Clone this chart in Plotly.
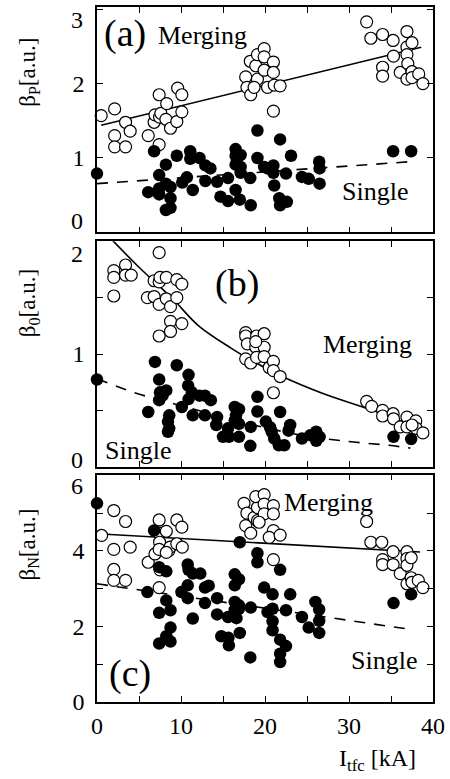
import plotly.graph_objects as go

# ---------------- data ----------------
# Panel (a): beta_p
a_open_x = [0.5, 2.1, 2.1, 2.1, 3.4, 3.95, 3.4, 6.1, 6.8, 6.9, 7.4, 7.4, 7.45, 7.6, 8.2, 8.3, 8.75, 9.5, 9.6, 10.1, 10.1,
            17.7, 17.85, 18.3, 18.25, 18.9, 19.1, 19.1, 19.9, 19.9, 19.9, 20.3, 21.0, 21.0, 21.1, 21.0, 21.8, 18.7,
            32.1, 32.6, 34.0, 34.0, 34.0, 35.25, 35.3, 36.1, 36.9, 36.9, 36.9, 37.0, 36.9, 37.5, 37.5, 37.5, 38.3, 38.8]
a_open_y = [1.57, 1.66, 1.30, 1.15, 1.48, 1.36, 1.15, 1.30, 1.48, 1.58, 1.85, 1.18, 1.55, 1.60, 1.52, 1.73, 1.40, 1.49, 1.94, 1.85, 1.62,
            2.09, 1.95, 1.85, 2.30, 2.24, 2.39, 2.06, 2.47, 2.36, 2.18, 1.95, 2.29, 2.15, 1.98, 1.63, 1.97, 1.95,
            2.83, 2.61, 2.66, 2.22, 2.10, 2.58, 2.37, 2.15, 2.70, 2.49, 2.39, 2.27, 2.06, 2.55, 2.16, 2.08, 2.13, 2.0]
a_fill_x = [0, 6.8, 6.1, 7.4, 7.4, 7.4, 8.2, 8.2, 8.75, 8.75, 8.2, 8.75, 9.5, 10.15, 10.7, 11.1, 11.1, 11.4,
            12.2, 12.9, 13.5, 12.9, 14.3, 14.7, 15.6, 15.6, 16.5, 16.5, 16.5, 16.5, 17.0, 17.1, 17.1, 17.1, 18.25, 18.3,
            19.1, 19.1, 19.9, 20.3, 21.0, 21.0, 21.1, 21.8, 21.7, 21.8, 22.6, 22.5, 23.1, 24.4, 25.2, 26.45, 26.5, 26.5,
            35.25, 37.4]
a_fill_y = [0.79, 1.09, 0.54, 0.77, 0.59, 0.51, 0.91, 0.655, 0.61, 0.46, 0.30, 0.33, 1.03, 0.67, 0.74, 1.09, 0.99, 0.57,
            1.0, 0.90, 0.86, 0.69, 0.68, 0.48, 0.42, 0.73, 1.12, 1.03, 0.91, 0.57, 0.44, 1.04, 0.88, 0.80, 0.73, 0.365,
            1.37, 1.0, 0.88, 0.86, 0.90, 0.80, 0.63, 1.25, 0.46, 0.365, 0.41, 0.79, 1.03, 0.745, 0.72, 0.95, 0.86, 0.655,
            1.09, 1.09]
a_merge_fit_x = [0.5, 38.6]
a_merge_fit_y = [1.44, 2.49]
a_single_fit_x = [0, 37.3]
a_single_fit_y = [0.655, 0.95]
a_yticks = [0, 1, 2, 3]

# Panel (b): beta_0
b_open_x = [2.0, 2.0, 2.0, 3.4, 3.4, 4.07, 7.4, 6.0, 6.8, 6.8, 7.4, 7.5, 8.25, 9.5, 10.1, 7.4, 8.25, 8.75, 9.5, 8.75, 10.1, 8.75, 7.4,
            17.7, 17.7, 17.9, 19.0, 19.9, 18.9, 19.9, 17.7, 18.3, 19.0, 19.9, 20.5, 21.0, 21.0, 21.8, 21.0, 18.9,
            32.1, 32.7, 34.0, 34.0, 35.25, 35.3, 36.1, 36.9, 36.9, 37.95, 38.0, 38.8, 37.5]
b_open_y = [1.74, 1.68, 1.515, 1.79, 1.70, 1.70, 1.90, 1.50, 1.65, 1.51, 1.64, 1.68, 1.68, 1.66, 1.62, 1.44, 1.49, 1.42, 1.50, 1.29, 1.27, 1.20, 1.16,
            1.19, 1.16, 1.09, 1.16, 1.18, 1.06, 1.06, 0.957, 0.92, 0.97, 0.977, 0.88, 0.935, 0.853, 0.80, 0.656, 1.11,
            0.58, 0.535, 0.50, 0.45, 0.47, 0.425, 0.353, 0.44, 0.353, 0.406, 0.34, 0.30, 0.37]
b_fill_x = [0, 6.9, 9.5, 7.4, 7.5, 8.25, 7.4, 7.8, 10.9, 10.85, 11.3, 10.9, 12.2, 12.85, 13.55, 10.1, 11.4, 12.85,
            14.3, 14.2, 6.1, 8.6, 8.45, 8.6, 8.45, 16.4, 16.9, 16.55, 16.4, 16.9, 15.6, 15.0, 15.7, 16.9, 18.3, 18.25,
            19.1, 19.1, 20.1, 20.6, 21.8, 20.8, 21.1, 21.65, 22.3, 23.0, 22.8, 24.4, 25.4, 26.1, 26.5, 26.1, 35.3, 37.4]
b_fill_y = [0.774, 0.93, 0.90, 0.774, 0.66, 0.677, 0.59, 0.63, 0.815, 0.72, 0.66, 0.60, 0.63, 0.63, 0.59, 0.53, 0.456, 0.456,
            0.44, 0.37, 0.485, 0.456, 0.40, 0.34, 0.31, 0.53, 0.51, 0.456, 0.41, 0.38, 0.34, 0.265, 0.265, 0.265, 0.353, 0.185,
            0.62, 0.49, 0.40, 0.35, 0.485, 0.31, 0.25, 0.19, 0.19, 0.37, 0.32, 0.25, 0.28, 0.31, 0.265, 0.23, 0.265, 0.245]
b_merge_fit_x = [1.7, 5.0, 9.0, 12.1, 16.0, 18.0, 21.8, 26.9, 32.8, 38.6]
b_merge_fit_y = [2.02, 1.77, 1.49, 1.25, 1.05, 0.96, 0.81, 0.65, 0.50, 0.33]
b_single_fit_x = [0, 4.3, 6.6, 12, 17, 21, 24.2, 29.7, 34.7, 37.3]
b_single_fit_y = [0.78, 0.66, 0.61, 0.50, 0.40, 0.33, 0.28, 0.225, 0.19, 0.165]
b_yticks = [0, 1, 2]

# Panel (c): beta_N
c_open_x = [0.55, 2.0, 2.0, 2.0, 2.0, 3.4, 3.4, 3.95, 6.1, 6.9, 7.4, 7.4, 7.45, 7.4, 7.5, 7.4, 8.25, 8.55, 8.7, 8.25, 9.5, 10.1, 9.5, 10.15,
            17.5, 17.85, 17.7, 18.3, 18.7, 19.1, 19.1, 18.9, 19.9, 19.9, 19.9, 21.0, 21.0, 19.3, 21.0, 20.5, 21.8, 21.0,
            32.1, 32.6, 33.9, 34.0, 34.0, 35.25, 35.25, 36.1, 36.9, 36.9, 36.9, 36.9, 37.4, 37.4, 37.5, 38.25, 38.8]
c_open_y = [4.41, 5.07, 4.04, 3.51, 3.22, 3.22, 4.78, 4.10, 3.70, 3.92, 4.82, 4.47, 4.23, 4.04, 3.50, 3.03, 4.52, 4.01, 4.10, 3.96, 4.82, 4.63, 4.19, 4.10,
            5.26, 5.0, 4.67, 4.47, 4.89, 4.80, 5.15, 5.44, 5.49, 5.24, 4.98, 5.2, 4.98, 4.76, 4.54, 4.36, 4.42, 3.77,
            4.78, 4.23, 4.23, 3.77, 3.64, 3.98, 3.64, 3.40, 3.98, 3.80, 3.62, 3.13, 3.82, 3.29, 3.17, 3.22, 3.03]
c_fill_x = [0, 6.8, 6.0, 7.4, 8.25, 7.4, 8.25, 8.75, 8.75, 8.25, 7.4, 8.75, 10.05, 10.8, 10.8, 10.8, 10.9, 11.4,
            12.3, 11.4, 12.85, 13.3, 12.85, 14.3, 14.3, 14.8, 15.7, 15.65, 15.6, 16.4, 16.9, 16.4, 16.4, 16.9, 16.4, 16.9,
            16.6, 17.0, 18.3, 18.25, 17.0, 19.1, 19.1, 19.9, 20.9, 21.8, 20.9, 20.3, 20.9, 20.9, 21.8, 22.5, 21.8, 21.8,
            22.5, 23.0, 24.4, 25.2, 26.0, 26.45, 26.45, 26.45, 35.3, 37.4]
c_fill_y = [5.26, 4.54, 2.91, 3.57, 3.46, 2.36, 2.69, 2.43, 1.97, 1.74, 1.55, 1.60, 2.91, 3.09, 2.75, 3.64, 3.50, 3.40,
            3.40, 2.21, 3.03, 3.08, 2.62, 2.75, 2.32, 1.74, 1.50, 1.70, 2.25, 3.38, 3.25, 3.09, 2.65, 2.56, 2.44, 2.47,
            2.22, 1.83, 2.50, 1.18, 4.23, 3.94, 3.70, 3.03, 2.85, 3.50, 2.47, 2.38, 2.14, 1.90, 1.65, 1.48, 1.28, 1.06,
            2.43, 2.85, 2.25, 1.97, 2.65, 2.45, 2.15, 1.83, 2.62, 2.85]
c_merge_fit_x = [0.55, 38.45]
c_merge_fit_y = [4.45, 3.97]
c_single_fit_x = [0, 37.1]
c_single_fit_y = [3.13, 1.93]
c_yticks = [0, 2, 4, 6]

x_ticks = [0, 10, 20, 30, 40]

# ---------------- figure ----------------
W, H = 450, 779
ML, MR, MT, MB = 97, 12, 5, 77
PW, PH = W - ML - MR, H - MT - MB
FONT = "Liberation Serif, Times New Roman, serif"


def py2paper(py):
    return (H - MB - py) / PH


def px2paper(px):
    return (px - ML) / PW


fig = go.Figure()

panels = [
    ("x", "y", a_open_x, a_open_y, a_fill_x, a_fill_y, a_merge_fit_x, a_merge_fit_y, a_single_fit_x, a_single_fit_y),
    ("x2", "y2", b_open_x, b_open_y, b_fill_x, b_fill_y, b_merge_fit_x, b_merge_fit_y, b_single_fit_x, b_single_fit_y),
    ("x3", "y3", c_open_x, c_open_y, c_fill_x, c_fill_y, c_merge_fit_x, c_merge_fit_y, c_single_fit_x, c_single_fit_y),
]
for xa, ya, ox, oy, fx, fy, mx, my, sx, sy in panels:
    fig.add_trace(go.Scatter(x=mx, y=my, mode="lines", xaxis=xa, yaxis=ya,
                             line=dict(color="black", width=1.6), line_shape="spline",
                             showlegend=False, hoverinfo="skip"))
    fig.add_trace(go.Scatter(x=sx, y=sy, mode="lines", xaxis=xa, yaxis=ya,
                             line=dict(color="black", width=1.6, dash="11px,9px"), line_shape="spline",
                             showlegend=False, hoverinfo="skip"))
    fig.add_trace(go.Scatter(x=ox, y=oy, mode="markers", xaxis=xa, yaxis=ya, cliponaxis=False,
                             marker=dict(symbol="circle", size=12, color="white",
                                         line=dict(color="black", width=1.2)),
                             showlegend=False))
    fig.add_trace(go.Scatter(x=fx, y=fy, mode="markers", xaxis=xa, yaxis=ya, cliponaxis=False,
                             marker=dict(symbol="circle", size=12.5, color="black",
                                         line=dict(color="black", width=0)),
                             showlegend=False))

axis_common = dict(showline=True, linecolor="black", linewidth=1.6, mirror="ticks",
                   ticks="inside", ticklen=6, tickwidth=1.2, tickcolor="black",
                   showgrid=False, zeroline=False,
                   tickfont=dict(family=FONT, size=24, color="black"))

xcommon = dict(axis_common, range=[0, 40], tickvals=x_ticks,
               minor=dict(dtick=5, tick0=0, ticks="inside", ticklen=6, tickwidth=1.2, tickcolor="black"))

dom_a = [py2paper(231), 1.0]
dom_b = [py2paper(466), py2paper(240)]
dom_c = [0.0, py2paper(474)]

# end-of-axis labels are drawn as text nudged inside, like the reference
a_ytext = [str(v) if v in (1, 2) else "" for v in a_yticks]
b_ytext = [str(v) if v == 1 else "" for v in b_yticks]
c_ytext = [str(v) if v != 6 else "" for v in c_yticks]

fig.update_layout(
    width=W, height=H,
    margin=dict(l=ML, r=MR, t=MT, b=MB),
    paper_bgcolor="white", plot_bgcolor="white",
    font=dict(family=FONT, color="black"),
    xaxis=dict(xcommon, anchor="y", domain=[0, 1], showticklabels=False),
    xaxis2=dict(xcommon, anchor="y2", domain=[0, 1], showticklabels=False),
    xaxis3=dict(xcommon, anchor="y3", domain=[0, 1], ticklabelstandoff=1),
    yaxis=dict(axis_common, anchor="x", domain=dom_a, range=[0, 3.03], tickvals=a_yticks, ticktext=a_ytext,
               ticklabelstandoff=6),
    yaxis2=dict(axis_common, anchor="x2", domain=dom_b, range=[0, 2.0], tickvals=b_yticks, ticktext=b_ytext,
                minor=dict(dtick=0.5, tick0=0, ticks="inside", ticklen=6, tickwidth=1.2, tickcolor="black"),
                ticklabelstandoff=6),
    yaxis3=dict(axis_common, anchor="x3", domain=dom_c, range=[0, 6.02], tickvals=c_yticks, ticktext=c_ytext,
                minor=dict(dtick=1, tick0=0, ticks="inside", ticklen=6, tickwidth=1.2, tickcolor="black"),
                ticklabelstandoff=6),
)


def ann(text, px, py, size, angle=0, xanchor="center"):
    fig.add_annotation(text=text, x=px2paper(px), y=py2paper(py), xref="paper", yref="paper",
                       showarrow=False, textangle=angle, xanchor=xanchor, yanchor="middle",
                       font=dict(family=FONT, size=size, color="black"))


# nudged end tick labels
ann("3", 85, 18, 24, xanchor="right")
ann("0", 85, 220, 24, xanchor="right")
ann("2", 85, 253, 24, xanchor="right")
ann("0", 85, 459, 24, xanchor="right")
ann("6", 85, 485, 24, xanchor="right")

# panel labels and group labels
ann("(a)", 125, 32, 38)
ann("Merging", 204, 34, 26)
ann("Single", 379, 190, 26)
ann("(b)", 239, 282, 38)
ann("Merging", 372, 343, 26)
ann("Single", 139, 450, 26)
ann("Merging", 332, 502, 26)
ann("Single", 388, 660, 26)
ann("(c)", 130, 673, 38)

# axis titles
ann("β<sub>P</sub>[a.u.]", 28, 71, 23, -90)
ann("β<sub>0</sub>[a.u.]", 28, 302, 23, -90)
ann("β<sub>N</sub>[a.u.]", 28, 544, 23, -90)
ann("I<sub>tfc</sub> [kA]", 382, 760, 24)

fig.write_html("out.html")
